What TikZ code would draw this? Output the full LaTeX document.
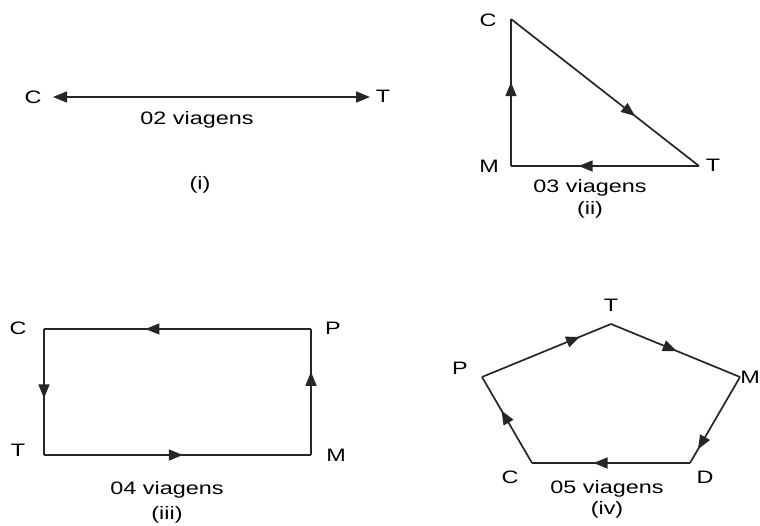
\documentclass[tikz,border=0pt]{standalone}
\usepackage{fontspec}
\setmainfont{Liberation Sans}
\usepackage{graphicx}
\usetikzlibrary{arrows.meta,decorations.markings}
\newcommand{\wide}[1]{\scalebox{1.3}[1]{#1}}
\tikzset{
  lbl/.style={font=\fontsize{18}{20}\selectfont, inner sep=0pt, text height=13pt, text depth=0pt},
  edge/.style={line width=1.7pt, draw=black!85},
  midarrow/.style={postaction={decorate,decoration={markings,
      mark=at position #1 with {\arrow{Triangle[length=14pt,width=11pt]}}}}},
}
\begin{document}
\begin{tikzpicture}[x=1pt,y=-1pt]
\useasboundingbox (0,0) rectangle (760,525);
% (i)
\coordinate (C1) at (53,97);
\coordinate (T1) at (370,97);
\draw[edge, {Triangle[length=14pt,width=11pt]}-{Triangle[length=14pt,width=11pt]}] (C1) -- (T1);
\node[lbl] (lc1) at (33,97) {\wide{C}};
\node[lbl] (lt1) at (383,96) {\wide{T}};
\node[lbl] (v1) at (197,118) {\wide{02 viagens}};
\node[lbl] (n1) at (200,183) {\wide{(i)}};
% (ii)
\coordinate (C2) at (511,19);
\coordinate (T2) at (699,166);
\coordinate (M2) at (511,166);
\draw[edge, midarrow=0.66] (C2) -- (T2);
\draw[edge, midarrow=0.64] (T2) -- (M2);
\draw[edge, midarrow=0.57] (M2) -- (C2);
\node[lbl] (lc2) at (488,20) {\wide{C}};
\node[lbl] (lt2) at (713,165) {\wide{T}};
\node[lbl] (lm2) at (489,166) {\wide{M}};
\node[lbl] (v2) at (590,186) {\wide{03 viagens}};
\node[lbl] (n2) at (590,208) {\wide{(ii)}};
% (iii)
\coordinate (C3) at (44,329);
\coordinate (P3) at (311,329);
\coordinate (M3) at (311,455);
\coordinate (T3) at (44,455);
\draw[edge, midarrow=0.62] (P3) -- (C3);
\draw[edge, midarrow=0.55] (C3) -- (T3);
\draw[edge, midarrow=0.52] (T3) -- (M3);
\draw[edge, midarrow=0.66] (M3) -- (P3);
\node[lbl] (lc3) at (18,328) {\wide{C}};
\node[lbl] (lp3) at (333,328) {\wide{P}};
\node[lbl] (lt3) at (18,450) {\wide{T}};
\node[lbl] (lm3) at (336,455) {\wide{M}};
\node[lbl] (v3) at (167,488) {\wide{04 viagens}};
\node[lbl] (n3) at (167,513) {\wide{(iii)}};
% (iv)
\coordinate (T4) at (611,324);
\coordinate (M4) at (740,377);
\coordinate (D4) at (690,463);
\coordinate (C4) at (532,463);
\coordinate (P4) at (482,377);
\draw[edge, midarrow=0.76] (P4) -- (T4);
\draw[edge, midarrow=0.51] (T4) -- (M4);
\draw[edge, midarrow=0.84] (M4) -- (D4);
\draw[edge, midarrow=0.61] (D4) -- (C4);
\draw[edge, midarrow=0.61] (C4) -- (P4);
\node[lbl] (lt4) at (611,305) {\wide{T}};
\node[lbl] (lp4) at (460,368) {\wide{P}};
\node[lbl] (lm4) at (750,377) {\wide{M}};
\node[lbl] (lc4) at (510,477) {\wide{C}};
\node[lbl] (ld4) at (705,477) {\wide{D}};
\node[lbl] (v4) at (607,487) {\wide{05 viagens}};
\node[lbl] (n4) at (607,508) {\wide{(iv)}};
\end{tikzpicture}
\end{document}
